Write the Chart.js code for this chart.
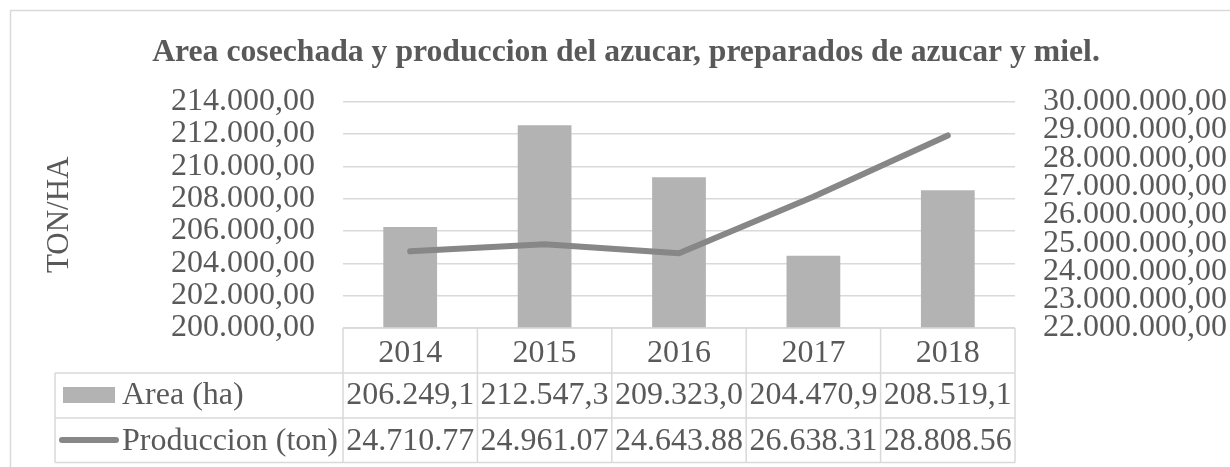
<!DOCTYPE html>
<html>
<head>
<meta charset="utf-8">
<script src="https://cdn.jsdelivr.net/npm/chart.js@4/dist/chart.umd.min.js"></script>
<style>
  html, body { margin: 0; padding: 0; background: #fff; }
  #wrap { width: 1230px; height: 467px; position: relative; }
</style>
</head>
<body>
<div id="wrap"><canvas id="myChart" width="1230" height="467"></canvas></div>
<script>
// data
const years = ['2014', '2015', '2016', '2017', '2018'];
const areaHa = [206249.1, 212547.3, 209323.0, 204470.9, 208519.1];
const produccionTon = [24710770, 24961070, 24643880, 26638310, 28808560];
// as shown (cut off) in the data table
const areaText = ['206.249,1', '212.547,3', '209.323,0', '204.470,9', '208.519,1'];
const prodText = ['24.710.77', '24.961.07', '24.643.88', '26.638.31', '28.808.56'];

const TEXT = '#595959';
const GRID = '#d9d9d9';
const BAR = '#b3b3b3';
const LINE = '#878787';
const FONT = "'Liberation Serif', 'Times New Roman', serif";

function fmt(v) {
	// 214000 -> "214.000,00"
	const parts = Math.round(v).toString().split('');
	let out = '';
	for (let i = 0; i < parts.length; i++) {
		if (i > 0 && (parts.length - i) % 3 === 0) out += '.';
		out += parts[i];
	}
	return out + ',00';
}

// frame, title and data table
const tablePlugin = {
	id: 'tablePlugin',
	beforeDraw(chart) {
		const ctx = chart.ctx;
		ctx.save();
		ctx.strokeStyle = GRID;
		ctx.lineWidth = 1.5;
		ctx.strokeRect(10.5, 10.5, 1240, 480);
		ctx.restore();
	},
	afterDraw(chart) {
		const ctx = chart.ctx;
		const x = chart.scales.x;
		const area = chart.chartArea;
		const colW = x.width / years.length;
		const top = area.bottom;
		const rows = [top, top + 45, top + 90, top + 134.5];
		const labelLeft = 55;

		ctx.save();
		// title
		ctx.fillStyle = TEXT;
		ctx.font = 'bold 31.7px ' + FONT;
		ctx.textAlign = 'center';
		ctx.textBaseline = 'alphabetic';
		ctx.fillText('Area cosechada y produccion del azucar, preparados de azucar y miel.', 626, 61);

		// grid of the table
		ctx.strokeStyle = GRID;
		ctx.lineWidth = 1.5;
		ctx.beginPath();
		ctx.moveTo(area.left, rows[0]); ctx.lineTo(area.right, rows[0]);
		for (let r = 1; r < rows.length; r++) {
			ctx.moveTo(labelLeft, rows[r]); ctx.lineTo(area.right, rows[r]);
		}
		ctx.moveTo(labelLeft, rows[1]); ctx.lineTo(labelLeft, rows[3]);
		for (let i = 0; i <= years.length; i++) {
			const cx = area.left + i * colW;
			ctx.moveTo(cx, rows[0]); ctx.lineTo(cx, rows[3]);
		}
		ctx.stroke();

		// texts
		ctx.font = '32px ' + FONT;
		ctx.fillStyle = TEXT;
		ctx.textAlign = 'center';
		years.forEach((y, i) => {
			const cx = x.getPixelForValue(i);
			ctx.fillText(y, cx, rows[0] + 34);
			ctx.save();
			ctx.beginPath();
			ctx.rect(area.left + i * colW + 1, rows[1], colW - 2, rows[3] - rows[1]);
			ctx.clip();
			ctx.fillText(areaText[i], cx, rows[1] + 31);
			ctx.fillText(prodText[i], cx, rows[2] + 32);
			ctx.restore();
		});

		ctx.textAlign = 'left';
		ctx.fillText('Area (ha)', 122, rows[1] + 31);
		ctx.fillText('Produccion (ton)', 122, rows[2] + 32);

		// legend keys
		ctx.fillStyle = BAR;
		ctx.fillRect(63, rows[1] + 14, 52, 16);
		ctx.strokeStyle = LINE;
		ctx.lineWidth = 6;
		ctx.lineCap = 'round';
		ctx.beginPath();
		ctx.moveTo(62, rows[2] + 22); ctx.lineTo(116, rows[2] + 22);
		ctx.stroke();
		ctx.restore();
	}
};

new Chart(document.getElementById('myChart'), {
	type: 'bar',
	data: {
		labels: years,
		datasets: [{
			type: 'line',
			label: 'Produccion (ton)',
			data: produccionTon,
			yAxisID: 'y2',
			borderColor: LINE,
			borderWidth: 6,
			borderCapStyle: 'round',
			borderJoinStyle: 'round',
			pointRadius: 0,
			tension: 0,
			order: 0
		}, {
			label: 'Area (ha)',
			data: areaHa,
			yAxisID: 'y',
			backgroundColor: BAR,
			categoryPercentage: 1,
			barPercentage: 0.4,
			order: 1
		}]
	},
	options: {
		responsive: false,
		animation: false,
		layout: { padding: { left: 37, right: 0, top: 101.7, bottom: 139 } },
		plugins: {
			legend: { display: false },
			title: { display: false },
			tooltip: { enabled: false }
		},
		scales: {
			x: { display: false },
			y: {
				position: 'left',
				min: 200000,
				max: 214000,
				afterFit(scale) { scale.width = 343 - 37; },
				ticks: {
					stepSize: 2000,
					autoSkip: false,
					padding: 28,
					color: TEXT,
					font: { family: FONT, size: 32 },
					callback: v => fmt(v)
				},
				grid: { color: GRID, lineWidth: 1.5, drawTicks: false },
				border: { display: false },
				title: {
					display: true,
					text: 'TON/HA',
					color: TEXT,
					font: { family: FONT, size: 31 },
					padding: { top: 4, bottom: 0 }
				}
			},
			y2: {
				position: 'right',
				min: 22000000,
				max: 30000000,
				afterFit(scale) { scale.width = 1230 - 1015; },
				ticks: {
					stepSize: 1000000,
					autoSkip: false,
					padding: 28,
					color: TEXT,
					font: { family: FONT, size: 32 },
					callback: v => fmt(v)
				},
				grid: { drawOnChartArea: false, drawTicks: false },
				border: { display: false }
			}
		}
	},
	plugins: [tablePlugin]
});
</script>
</body>
</html>
